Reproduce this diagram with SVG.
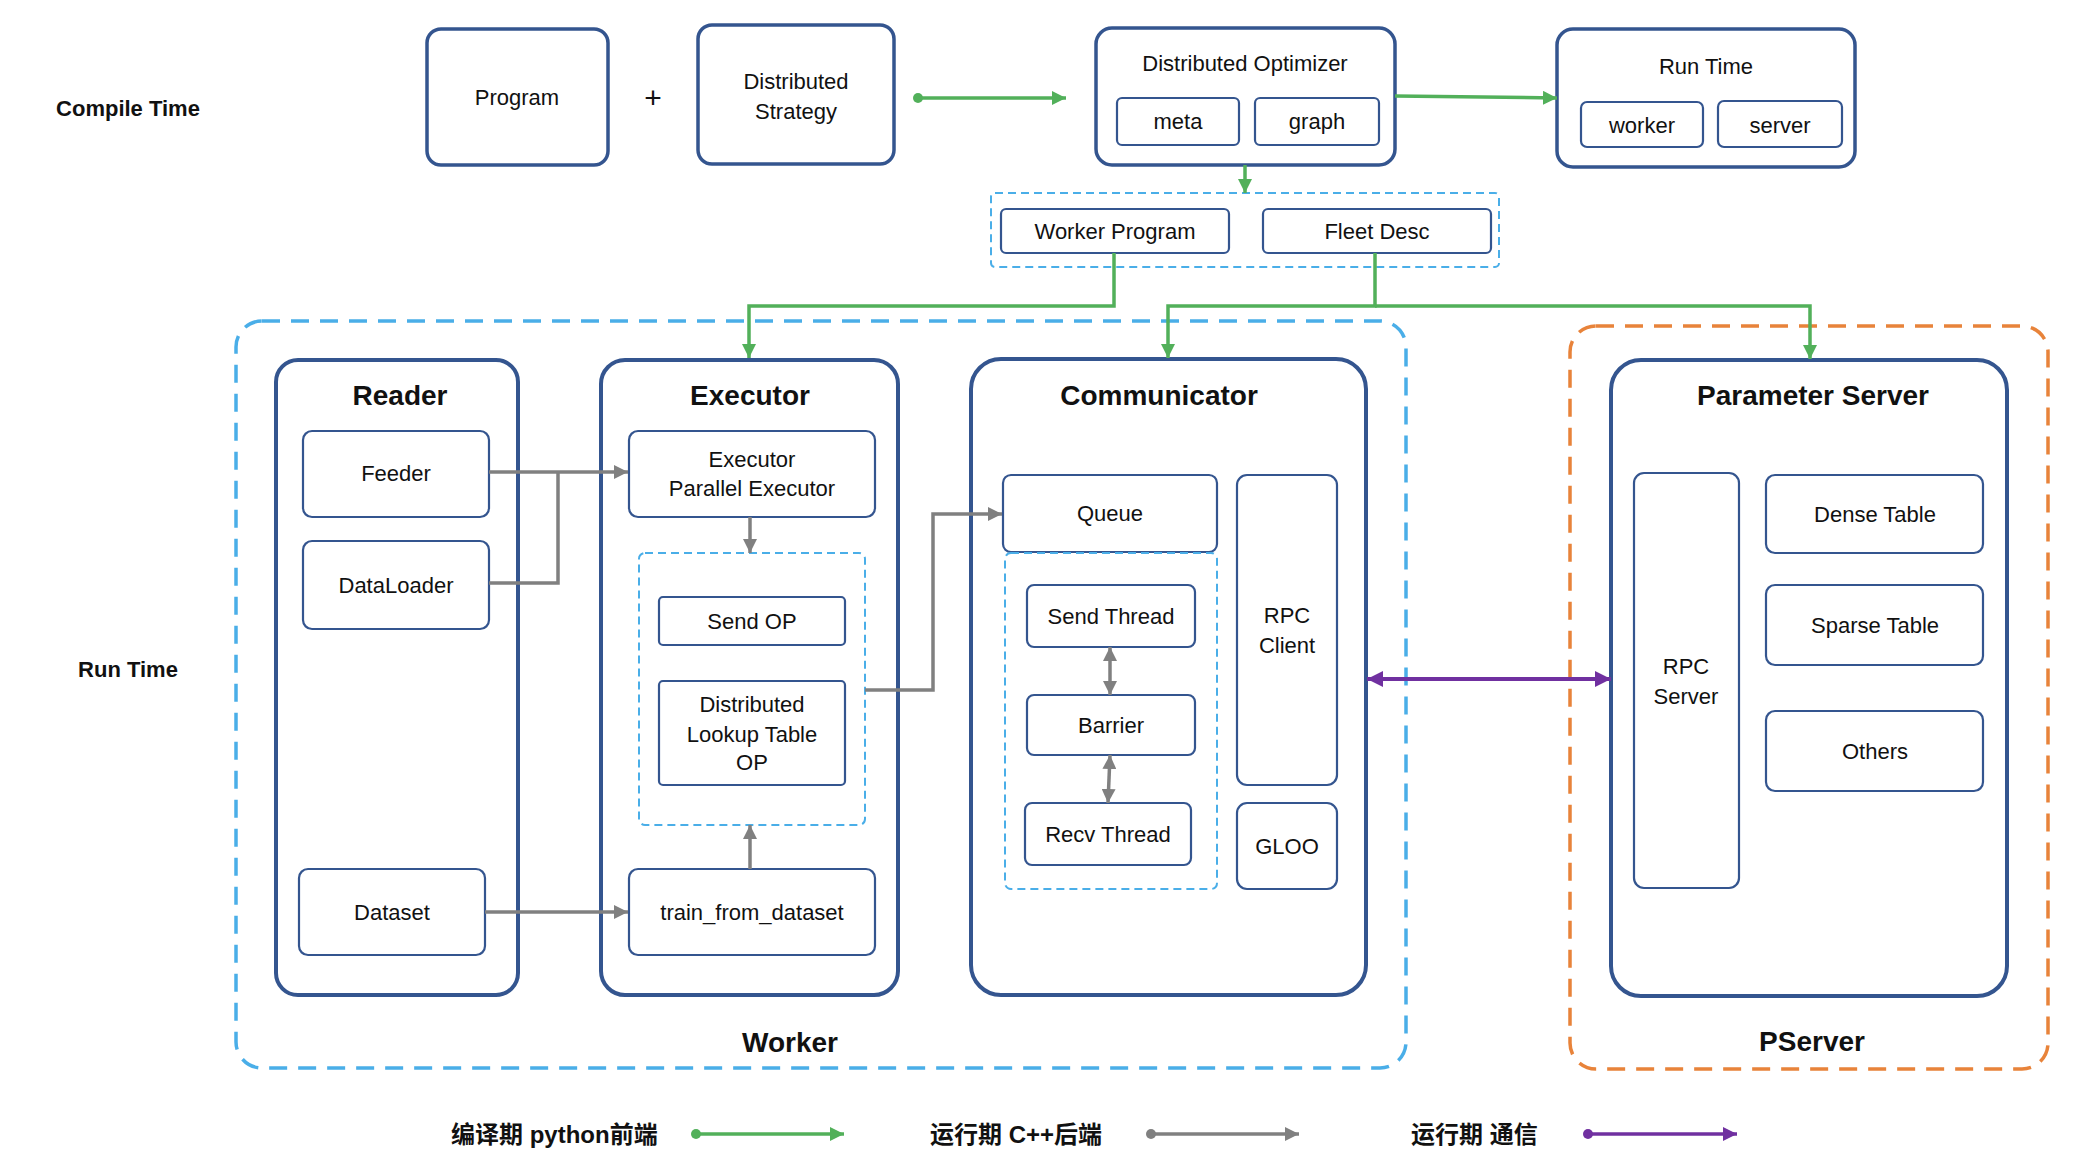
<svg xmlns="http://www.w3.org/2000/svg" width="2078" height="1168" viewBox="0 0 2078 1168">
<style>
  text { font-family: "Liberation Sans", Arial, "Noto Sans CJK SC", sans-serif; fill: #111; dominant-baseline: central; text-anchor: middle; }
  .t { font-size: 22px; }
  .h { font-size: 28px; font-weight: bold; }
  .side { font-size: 22px; font-weight: bold; }
  .leg { font-size: 24px; font-weight: bold; text-anchor: start; font-family: "Liberation Sans", "Noto Sans CJK SC", sans-serif; }
  .big { fill: #fff; stroke: #34558F; stroke-width: 3.5; }
  .grp { fill: #fff; stroke: #34558F; stroke-width: 4; }
  .box { fill: #fff; stroke: #34558F; stroke-width: 2.2; }
  .dblue { fill: none; stroke: #4AAEE8; stroke-width: 2; stroke-dasharray: 8 5; }
  .wdash { fill: none; stroke: #4AAEE8; stroke-width: 3.5; stroke-dasharray: 18 11; }
  .odash { fill: none; stroke: #E8833A; stroke-width: 3.5; stroke-dasharray: 18 11; }
  .g { fill: none; stroke: #52B05A; stroke-width: 3.5; }
  .k { fill: none; stroke: #808080; stroke-width: 3.5; }
  .p { fill: none; stroke: #7030A0; stroke-width: 4; }
</style>
<defs>
  <marker id="ag" markerUnits="userSpaceOnUse" markerWidth="14" markerHeight="14" refX="14" refY="7" orient="auto-start-reverse"><path d="M0,0 L14,7 L0,14 z" fill="#52B05A"/></marker>
  <marker id="ak" markerUnits="userSpaceOnUse" markerWidth="14" markerHeight="14" refX="14" refY="7" orient="auto-start-reverse"><path d="M0,0 L14,7 L0,14 z" fill="#808080"/></marker>
  <marker id="ap" markerUnits="userSpaceOnUse" markerWidth="16" markerHeight="16" refX="16" refY="8" orient="auto-start-reverse"><path d="M0,0 L16,8 L0,16 z" fill="#7030A0"/></marker>
  <marker id="ap2" markerUnits="userSpaceOnUse" markerWidth="14" markerHeight="14" refX="14" refY="7" orient="auto-start-reverse"><path d="M0,0 L14,7 L0,14 z" fill="#7030A0"/></marker>
</defs>
<rect width="2078" height="1168" fill="#fff"/>

<!-- side labels -->
<text class="side" x="128" y="108">Compile Time</text>
<text class="side" x="128" y="669">Run Time</text>

<!-- containers -->
<g id="worker-group">
  <rect class="wdash" x="236" y="321" width="1170" height="747" rx="26"/>
  <text class="h" x="790" y="1042">Worker</text>
</g>
<g id="pserver-group">
  <rect class="odash" x="1570" y="326" width="478" height="743" rx="26"/>
  <text class="h" x="1812" y="1041">PServer</text>
</g>

<!-- compile time nodes -->
<g id="program">
  <rect class="big" x="427" y="29" width="181" height="136" rx="14"/>
  <text class="t" x="517" y="97">Program</text>
</g>
<text x="653" y="97" style="font-size:30px">+</text>
<g id="dist-strategy">
  <rect class="big" x="698" y="25" width="196" height="139" rx="14"/>
  <text class="t" x="796" y="81">Distributed</text>
  <text class="t" x="796" y="111">Strategy</text>
</g>
<g id="dist-optimizer">
  <rect class="big" x="1096" y="28" width="299" height="137" rx="16"/>
  <text class="t" x="1245" y="63">Distributed Optimizer</text>
  <rect class="box" x="1117" y="98" width="122" height="47" rx="5"/>
  <text class="t" x="1178" y="121">meta</text>
  <rect class="box" x="1255" y="98" width="124" height="47" rx="5"/>
  <text class="t" x="1317" y="121">graph</text>
</g>
<g id="run-time">
  <rect class="big" x="1557" y="29" width="298" height="138" rx="16"/>
  <text class="t" x="1706" y="66">Run Time</text>
  <rect class="box" x="1581" y="102" width="122" height="45" rx="6"/>
  <text class="t" x="1642" y="125">worker</text>
  <rect class="box" x="1718" y="101" width="124" height="46" rx="6"/>
  <text class="t" x="1780" y="125">server</text>
</g>
<g id="program-desc">
  <rect class="dblue" x="991" y="193" width="508" height="74" rx="4"/>
  <rect class="box" x="1001" y="209" width="228" height="44" rx="5"/>
  <text class="t" x="1115" y="231">Worker Program</text>
  <rect class="box" x="1263" y="209" width="228" height="44" rx="5"/>
  <text class="t" x="1377" y="231">Fleet Desc</text>
</g>

<!-- Reader -->
<g id="reader">
  <rect class="grp" x="276" y="360" width="242" height="635" rx="22"/>
  <text class="h" x="400" y="395">Reader</text>
  <rect class="box" x="303" y="431" width="186" height="86" rx="9"/>
  <text class="t" x="396" y="473">Feeder</text>
  <rect class="box" x="303" y="541" width="186" height="88" rx="9"/>
  <text class="t" x="396" y="585">DataLoader</text>
  <rect class="box" x="299" y="869" width="186" height="86" rx="9"/>
  <text class="t" x="392" y="912">Dataset</text>
</g>

<!-- Executor -->
<g id="executor">
  <rect class="grp" x="601" y="360" width="297" height="635" rx="24"/>
  <text class="h" x="750" y="395">Executor</text>
  <rect class="box" x="629" y="431" width="246" height="86" rx="9"/>
  <text class="t" x="752" y="459">Executor</text>
  <text class="t" x="752" y="488">Parallel Executor</text>
  <rect class="dblue" x="639" y="553" width="226" height="272" rx="6"/>
  <rect class="box" x="659" y="597" width="186" height="48" rx="4"/>
  <text class="t" x="752" y="621">Send OP</text>
  <rect class="box" x="659" y="681" width="186" height="104" rx="4"/>
  <text class="t" x="752" y="704">Distributed</text>
  <text class="t" x="752" y="734">Lookup Table</text>
  <text class="t" x="752" y="762">OP</text>
  <rect class="box" x="629" y="869" width="246" height="86" rx="9"/>
  <text class="t" x="752" y="912">train_from_dataset</text>
</g>

<!-- Communicator -->
<g id="communicator">
  <rect class="grp" x="971" y="359" width="395" height="636" rx="30"/>
  <text class="h" x="1159" y="395">Communicator</text>
  <rect class="box" x="1003" y="475" width="214" height="77" rx="8"/>
  <text class="t" x="1110" y="513">Queue</text>
  <rect class="dblue" x="1005" y="553" width="212" height="336" rx="6"/>
  <rect class="box" x="1027" y="585" width="168" height="62" rx="7"/>
  <text class="t" x="1111" y="616">Send Thread</text>
  <rect class="box" x="1027" y="695" width="168" height="60" rx="7"/>
  <text class="t" x="1111" y="725">Barrier</text>
  <rect class="box" x="1025" y="803" width="166" height="62" rx="7"/>
  <text class="t" x="1108" y="834">Recv Thread</text>
  <rect class="box" x="1237" y="475" width="100" height="310" rx="10"/>
  <text class="t" x="1287" y="615">RPC</text>
  <text class="t" x="1287" y="645">Client</text>
  <rect class="box" x="1237" y="803" width="100" height="86" rx="10"/>
  <text class="t" x="1287" y="846">GLOO</text>
</g>

<!-- Parameter Server -->
<g id="parameter-server">
  <rect class="grp" x="1611" y="360" width="396" height="636" rx="30"/>
  <text class="h" x="1813" y="395">Parameter Server</text>
  <rect class="box" x="1634" y="473" width="105" height="415" rx="10"/>
  <text class="t" x="1686" y="666">RPC</text>
  <text class="t" x="1686" y="696">Server</text>
  <rect class="box" x="1766" y="475" width="217" height="78" rx="9"/>
  <text class="t" x="1875" y="514">Dense Table</text>
  <rect class="box" x="1766" y="585" width="217" height="80" rx="9"/>
  <text class="t" x="1875" y="625">Sparse Table</text>
  <rect class="box" x="1766" y="711" width="217" height="80" rx="9"/>
  <text class="t" x="1875" y="751">Others</text>
</g>

<!-- connectors -->
<g id="connectors">
  <circle cx="918" cy="98" r="5" fill="#52B05A"/>
  <path class="g" d="M918,98 H1066" marker-end="url(#ag)"/>
  <path class="g" d="M1395,96 L1557,98" marker-end="url(#ag)"/>
  <path class="g" d="M1245,165 V193" marker-end="url(#ag)"/>
  <path class="g" d="M1114,253 V306 H749 V358" marker-end="url(#ag)"/>
  <path class="g" d="M1375,253 V306 H1168 V358" marker-end="url(#ag)"/>
  <path class="g" d="M1375,306 H1810 V359" marker-end="url(#ag)"/>

  <path class="k" d="M489,472 H628" marker-end="url(#ak)"/>
  <path class="k" d="M489,583 H558 V472"/>
  <path class="k" d="M485,912 H628" marker-end="url(#ak)"/>
  <path class="k" d="M750,517 V553" marker-end="url(#ak)"/>
  <path class="k" d="M750,869 V825" marker-end="url(#ak)"/>
  <path class="k" d="M865,690 H933 V514 H1002" marker-end="url(#ak)"/>
  <path class="k" d="M1110,647 V695" marker-start="url(#ak)" marker-end="url(#ak)"/>
  <path class="k" d="M1110,755 L1108,803" marker-start="url(#ak)" marker-end="url(#ak)"/>

  <path class="p" d="M1367,679 H1611" marker-start="url(#ap)" marker-end="url(#ap)"/>
</g>

<!-- legend -->
<g id="legend">
  <text class="leg" x="451" y="1134">编译期 python前端</text>
  <circle cx="696" cy="1134" r="5" fill="#52B05A"/>
  <path class="g" d="M696,1134 H844" marker-end="url(#ag)"/>
  <text class="leg" x="930" y="1134">运行期 C++后端</text>
  <circle cx="1151" cy="1134" r="5" fill="#808080"/>
  <path class="k" d="M1151,1134 H1299" marker-end="url(#ak)"/>
  <text class="leg" x="1411" y="1134">运行期 通信</text>
  <circle cx="1588" cy="1134" r="5" fill="#7030A0"/>
  <path class="p" style="stroke-width:3.5" d="M1588,1134 H1737" marker-end="url(#ap2)"/>
</g>
</svg>
